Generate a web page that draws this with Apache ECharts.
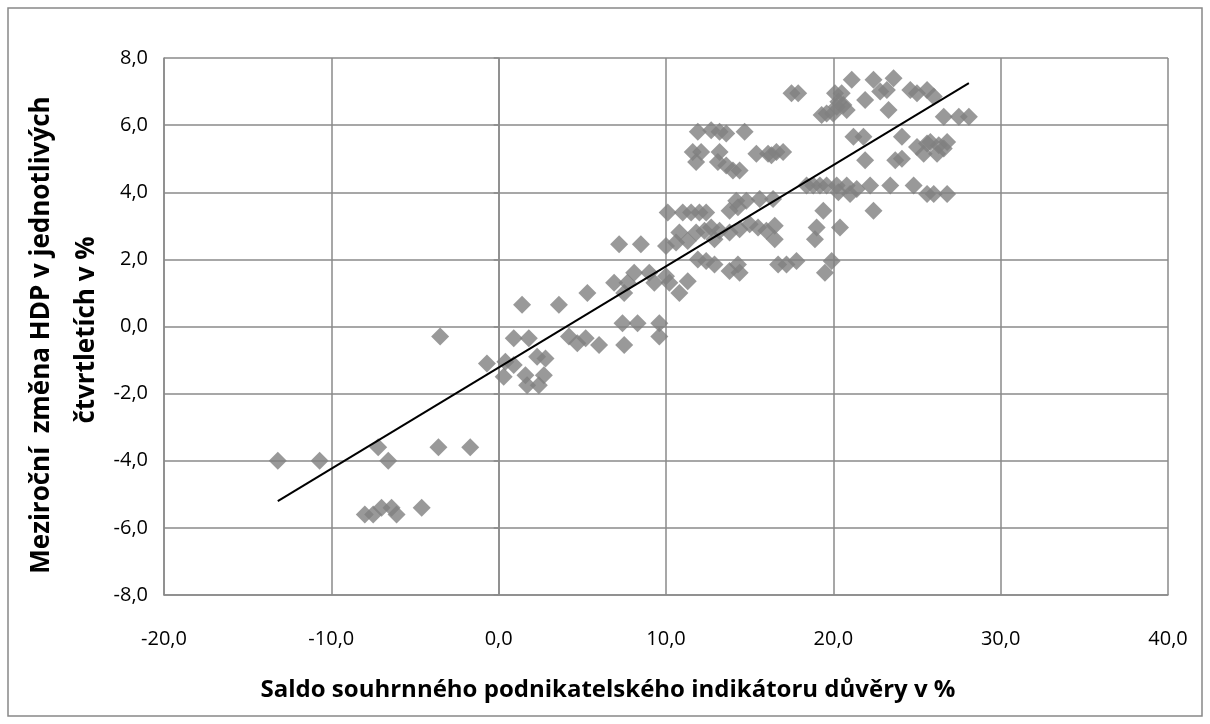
<!DOCTYPE html>
<html>
<head>
<meta charset="utf-8">
<script src="https://cdn.jsdelivr.net/npm/echarts@6/dist/echarts.min.js"></script>
<style>
html,body{margin:0;padding:0;background:#fff;}
#c{width:1210px;height:724px;}
</style>
</head>
<body>
<div id="c"></div>
<script>
// Saldo souhrnného podnikatelského indikátoru důvěry (x) vs. meziroční změna HDP (y)
const xVals = [-13.2,-10.7,-7.2,-6.6,-3.6,-1.7,-8.0,-7.5,-7.0,-6.4,-6.1,-4.6,-3.5,-0.7,0.4,0.9,0.3,0.9,1.8,1.4,
  3.6,5.3,2.3,2.8,1.6,2.7,1.7,2.4,4.2,4.7,5.2,6.0,7.5,7.4,8.3,9.6,9.6,6.9,7.7,7.5,
  8.1,9.0,9.3,10.0,10.2,10.8,11.3,7.2,8.5,10.0,10.1,11.0,11.5,12.0,12.4,10.6,10.8,11.3,11.8,12.3,
  12.7,12.9,13.2,13.8,14.4,13.8,14.3,14.8,15.0,15.5,16.0,16.5,16.5,11.9,12.4,12.9,13.8,14.3,14.4,16.7,
  17.2,17.8,11.9,12.7,13.2,13.6,14.7,11.6,12.1,11.8,13.2,13.1,13.6,14.0,14.4,15.4,16.1,16.6,17.0,17.5,
  17.9,21.1,22.4,23.6,23.2,22.8,24.6,25.0,25.6,26.0,20.1,20.5,20.3,20.8,19.6,19.3,20.0,21.9,23.3,26.6,
  27.5,28.1,21.2,21.8,24.1,21.9,23.7,24.1,25.0,25.4,25.8,26.3,26.8,26.2,26.6,25.6,18.4,19.2,20.2,20.8,
  21.4,22.2,23.4,24.8,25.6,26.0,26.8,19.4,19.0,18.9,20.4,22.4,19.9,19.5,20.3,21.0,15.6,16.4,14.2,19.6,
  18.8,20.6,20.2,16.3];
const yVals = [-4.0,-4.0,-3.6,-4.0,-3.6,-3.6,-5.6,-5.6,-5.4,-5.4,-5.6,-5.4,-0.3,-1.1,-1.05,-1.15,-1.5,-0.35,-0.35,0.65,
  0.65,1.0,-0.9,-0.95,-1.45,-1.45,-1.75,-1.75,-0.3,-0.5,-0.35,-0.55,-0.55,0.1,0.1,0.1,-0.3,1.3,1.3,1.0,
  1.6,1.6,1.3,1.5,1.3,1.0,1.35,2.45,2.45,2.4,3.4,3.4,3.4,3.4,3.4,2.5,2.8,2.55,2.8,2.85,
  2.95,2.6,2.85,2.8,2.9,3.45,3.55,3.75,3.05,2.95,2.85,3.0,2.6,2.0,1.95,1.85,1.65,1.85,1.6,1.85,
  1.85,1.95,5.8,5.85,5.8,5.75,5.8,5.2,5.2,4.9,5.2,4.9,4.8,4.65,4.65,5.15,5.15,5.2,5.2,6.95,
  6.95,7.35,7.35,7.4,7.05,7.0,7.05,6.95,7.05,6.85,6.95,6.95,6.7,6.45,6.35,6.3,6.35,6.75,6.45,6.25,
  6.25,6.25,5.65,5.65,5.65,4.95,4.95,5.0,5.35,5.15,5.5,5.4,5.5,5.15,5.3,5.45,4.2,4.2,4.2,4.2,
  4.1,4.2,4.2,4.2,3.95,3.95,3.95,3.45,2.95,2.6,2.95,3.45,1.95,1.6,4.0,3.95,3.8,3.8,3.75,4.2,
  4.2,6.6,6.55,5.1];
// Trend line end points
const trendX = [-13.2, 28.1];
const trendY = [-5.2, 7.25];
const xTicks = {min: -20, max: 40, step: 10};
const yTicks = {min: -8, max: 8, step: 2};

const points = xVals.map((x, i) => [x, yVals[i]]);
const trend = trendX.map((x, i) => [x, trendY[i]]);
const fmt = v => v.toFixed(1).replace('.', ',');
const GRID = '#8a8a8a';
const FONT = '"Open Sans", "DejaVu Sans", sans-serif';

const chart = echarts.init(document.getElementById('c'), null, {renderer: 'canvas'});
chart.setOption({
  animation: false,
  backgroundColor: '#fff',
  grid: {left: 164, right: 42, top: 58, bottom: 129, containLabel: false},
  xAxis: {
    type: 'value', min: xTicks.min, max: xTicks.max, interval: xTicks.step,
    axisLine: {show: true, onZero: false, lineStyle: {color: GRID, width: 1.5}},
    axisTick: {show: false},
    splitLine: {show: true, lineStyle: {color: GRID, width: 1.5}},
    axisLabel: {formatter: fmt, fontFamily: FONT, fontSize: 20, color: '#000', margin: 34}
  },
  yAxis: [{
    type: 'value', min: yTicks.min, max: yTicks.max, interval: yTicks.step, position: 'left',
    axisLine: {show: true, onZero: false, lineStyle: {color: GRID, width: 1.5}},
    axisTick: {show: false},
    splitLine: {show: true, lineStyle: {color: GRID, width: 1.5}},
    axisLabel: {formatter: fmt, fontFamily: FONT, fontSize: 20, color: '#000', margin: 16}
  }, {
    type: 'value', min: yTicks.min, max: yTicks.max, interval: yTicks.step, position: 'left',
    axisLine: {show: true, onZero: true, lineStyle: {color: GRID, width: 1.5}},
    axisTick: {show: true, inside: false, length: 5, lineStyle: {color: GRID, width: 1.5}},
    splitLine: {show: false},
    axisLabel: {show: false}
  }],
  series: [{
    type: 'scatter',
    data: points,
    symbol: 'diamond',
    symbolSize: 18,
    itemStyle: {color: '#808080'},
    z: 2
  }, {
    type: 'line',
    data: trend,
    symbol: 'none',
    lineStyle: {color: '#000', width: 2},
    z: 3
  }],
  graphic: [
    {type: 'rect', shape: {x: 8, y: 8, width: 1194, height: 708}, style: {fill: 'none', stroke: '#888', lineWidth: 1.5}, silent: true},
    {type: 'text', x: 608, y: 690, style: {text: 'Saldo souhrnného podnikatelského indikátoru důvěry v %', font: 'bold 24px ' + FONT, fill: '#000', textAlign: 'center', textVerticalAlign: 'middle'}},
    {type: 'text', x: 42, y: 335, rotation: Math.PI / 2, style: {text: 'Meziroční  změna HDP v jednotlivých', font: 'bold 26px ' + FONT, fill: '#000', textAlign: 'center', textVerticalAlign: 'middle'}},
    {type: 'text', x: 87, y: 330, rotation: Math.PI / 2, style: {text: 'čtvrtletích v %', font: 'bold 26px ' + FONT, fill: '#000', textAlign: 'center', textVerticalAlign: 'middle'}}
  ]
});
</script>
</body>
</html>
